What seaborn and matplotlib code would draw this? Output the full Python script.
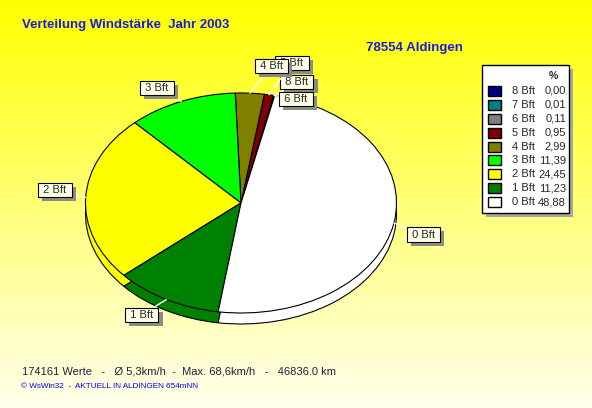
import numpy as np
import matplotlib.pyplot as plt
import matplotlib.patheffects as pe
import seaborn as sns
from matplotlib.patches import Rectangle

# Daten
stufen = ['8 Bft', '7 Bft', '6 Bft', '5 Bft', '4 Bft', '3 Bft', '2 Bft', '1 Bft', '0 Bft']
prozent = [0.00, 0.01, 0.11, 0.95, 2.99, 11.39, 24.45, 11.23, 48.88]
farben = ['#000080', '#008080', '#808080', '#800000', '#808000',
          '#00FF00', '#FFFF00', '#008000', '#FFFFFF']

titel = 'Verteilung Windstärke  Jahr 2003'
ort = '78554 Aldingen'
info = '174161 Werte   -   Ø 5,3km/h  -  Max. 68,6km/h   -   46836.0 km'
fuss = '© WsWin32  -  AKTUELL IN ALDINGEN 654mNN'

sns.set_style('white')
plt.rcParams['font.family'] = ['Liberation Sans', 'DejaVu Sans']

W, H = 592, 408
fig = plt.figure(figsize=(W / 100, H / 100), dpi=100)

# Hintergrund (gelb -> weiss)
bg = fig.add_axes([0, 0, 1, 1])
bg.set_xlim(0, W)
bg.set_ylim(H, 0)
bg.axis('off')
verlauf = np.ones((256, 1, 3))
verlauf[:, 0, 2] = np.linspace(0, 0.93, 256)
bg.imshow(verlauf, extent=[0, W, H, 0], aspect='auto')

bg.text(22, 25, titel, fontsize=9.5, fontweight='bold', color='#1C1CDC', va='center')
bg.text(366, 48, ort, fontsize=9.5, fontweight='bold', color='#1C1CDC', va='center')
bg.text(22, 371, info, fontsize=8, color='#202040', va='center')
bg.text(21, 386, fuss, fontsize=5.9, color='#0000F0', va='center')

# Legende
lx0, ly0, lx1, ly1 = 482, 65, 569, 213
bg.add_patch(Rectangle((lx0 + 4, ly0 + 4), lx1 - lx0, ly1 - ly0, fc='#A8A8A0', ec='none'))
bg.add_patch(Rectangle((lx0, ly0), lx1 - lx0, ly1 - ly0, fc='white', ec='black', lw=1))
bg.text(553, 76, '%', ha='center', va='center', fontweight='bold', fontsize=7.5)
for i, (s, p, f) in enumerate(zip(stufen, prozent, farben)):
    y = 90.7 + 13.95 * i
    bg.add_patch(Rectangle((488, y - 5), 13, 10, fc=f, ec='black', lw=1))
    bg.text(512, y, s, va='center', fontsize=8)
    bg.text(566, y, f'{p:.2f}'.replace('.', ','), ha='right', va='center', fontsize=8)

# 3D-Torte
cx, cy, rx, ry, tiefe = 241, 203, 155.5, 110, 11
lim = 1.25
ax = fig.add_axes([(cx - lim * rx) / W, 1 - (cy + lim * ry) / H,
                   2 * lim * rx / W, 2 * lim * ry / H])
d = tiefe / ry
start = 77.5
for off in np.linspace(-d, 0, 12)[:-1]:
    ax.pie(prozent, colors=farben, startangle=start, center=(0, off),
           wedgeprops=dict(linewidth=0))
ax.pie(prozent, colors=farben, startangle=start, center=(0, -d),
       wedgeprops=dict(edgecolor='black', linewidth=0.8))
keile, _ = ax.pie(prozent, colors=farben, startangle=start,
                  wedgeprops=dict(edgecolor='black', linewidth=0.8))
ax.set_xlim(-lim, lim)
ax.set_ylim(-lim, lim)
ax.set_aspect('auto')
ax.axis('off')

# Beschriftungen mit Schatten
pos = {'0 Bft': (423.5, 234.5), '1 Bft': (141.5, 315), '2 Bft': (55, 190),
       '3 Bft': (157, 88), '4 Bft': (271.5, 66), '5 Bft': (292, 63),
       '6 Bft': (296, 99), '7 Bft': (296.5, 82), '8 Bft': (296.5, 82)}
reihenfolge = ['7 Bft', '8 Bft', '5 Bft', '4 Bft', '6 Bft', '3 Bft', '2 Bft', '1 Bft', '0 Bft']
schatten = [pe.SimplePatchShadow(offset=(3, -3), shadow_rgbFace='#8C8C84', alpha=1.0),
            pe.Normal()]
for n, s in enumerate(reihenfolge):
    w = keile[stufen.index(s)]
    mid = np.deg2rad((w.theta1 + w.theta2) / 2)
    px, py = pos[s]
    a = ax.annotate(' ' + s + ' ', xy=(np.cos(mid), np.sin(mid)),
                    xytext=(px, H - py), textcoords='figure pixels',
                    ha='center', va='center', fontsize=8, zorder=6 + n,
                    bbox=dict(boxstyle='square,pad=0.2', fc='#FFFFE8', ec='black', lw=0.8),
                    arrowprops=dict(arrowstyle='-', color='white', lw=1, shrinkA=0, shrinkB=0),
                    annotation_clip=False)
    a.get_bbox_patch().set_path_effects(schatten)

fig.savefig('out.png', dpi=100)
